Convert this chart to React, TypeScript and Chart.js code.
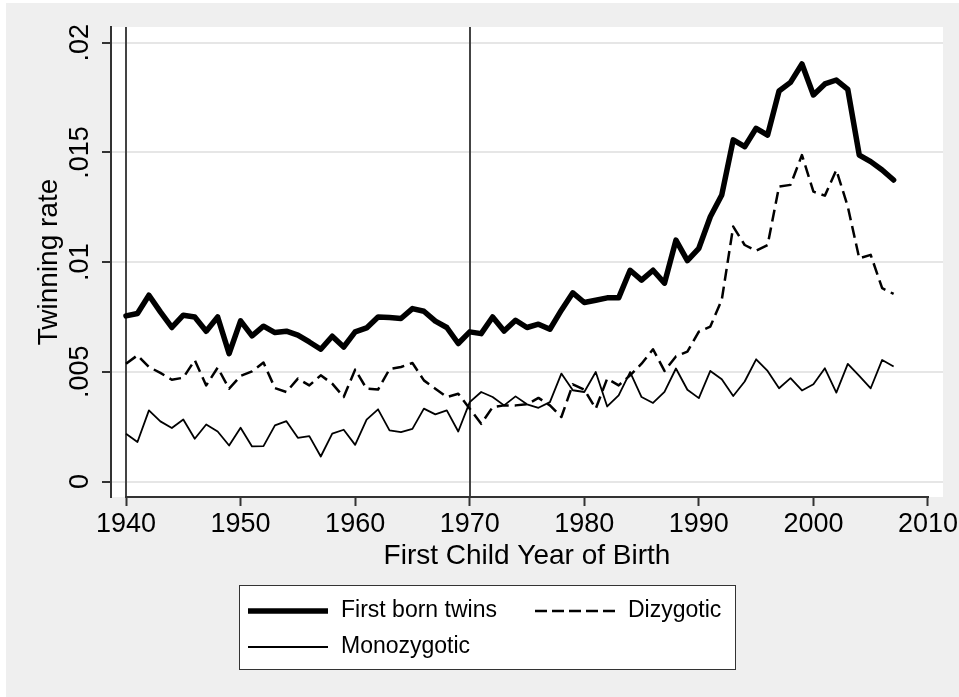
import React, { useEffect, useRef } from "react";
import { Chart, registerables } from "chart.js";

Chart.register(...registerables);

// ---------------- data ----------------
const years = [
  1940, 1941, 1942, 1943, 1944, 1945, 1946, 1947, 1948, 1949,
  1950, 1951, 1952, 1953, 1954, 1955, 1956, 1957, 1958, 1959,
  1960, 1961, 1962, 1963, 1964, 1965, 1966, 1967, 1968, 1969,
  1970, 1971, 1972, 1973, 1974, 1975, 1976, 1977, 1978, 1979,
  1980, 1981, 1982, 1983, 1984, 1985, 1986, 1987, 1988, 1989,
  1990, 1991, 1992, 1993, 1994, 1995, 1996, 1997, 1998, 1999,
  2000, 2001, 2002, 2003, 2004, 2005, 2006, 2007,
];

const firstBornTwins = [
  0.00755, 0.00766, 0.00849, 0.00773, 0.00702, 0.00758, 0.0075, 0.00685, 0.0075, 0.00583,
  0.00732, 0.00664, 0.00708, 0.00679, 0.00685, 0.00667, 0.00636, 0.00603, 0.00662, 0.00613,
  0.00682, 0.007, 0.0075, 0.00747, 0.00743, 0.00788, 0.00776, 0.00731, 0.00702, 0.00629,
  0.00682, 0.00674, 0.0075, 0.00686, 0.00735, 0.00702, 0.00717, 0.00694, 0.00781, 0.0086,
  0.00816, 0.00826, 0.00837, 0.00837, 0.00963, 0.00918, 0.00963, 0.00904, 0.011, 0.01007,
  0.01063, 0.01207, 0.01306, 0.01557, 0.01526, 0.0161, 0.01579, 0.0178, 0.01819, 0.01903,
  0.01762, 0.01812, 0.0183, 0.01787, 0.01488, 0.01458, 0.0142, 0.01374,
];

const dizygotic = [
  0.00537, 0.00575, 0.00522, 0.00495, 0.00464, 0.00473, 0.00553, 0.00438, 0.00519, 0.00423,
  0.00481, 0.00502, 0.00542, 0.00426, 0.00408, 0.00469, 0.00438, 0.00484, 0.00446, 0.00385,
  0.0051, 0.00423, 0.00419, 0.00512, 0.00522, 0.0054, 0.00461, 0.00423, 0.00385, 0.004,
  0.00332, 0.00263, 0.00339, 0.00347, 0.00347, 0.00352, 0.00381, 0.00347, 0.00294, 0.00443,
  0.00419, 0.00332, 0.00469, 0.00438, 0.00484, 0.00537, 0.00603, 0.00504, 0.0057, 0.00592,
  0.00683, 0.00706, 0.00828, 0.01162, 0.01078, 0.01052, 0.01078, 0.01344, 0.01352, 0.01488,
  0.01321, 0.01303, 0.0142, 0.01253, 0.01017, 0.01033, 0.00881, 0.00855,
];

const monozygotic = [
  0.00218, 0.0018, 0.00324, 0.00274, 0.00244, 0.00283, 0.00195, 0.0026, 0.00228, 0.00164,
  0.00245, 0.0016, 0.00161, 0.00256, 0.00275, 0.00199, 0.00207, 0.00114, 0.00218, 0.00236,
  0.00167, 0.00282, 0.00329, 0.00233, 0.00225, 0.0024, 0.00332, 0.00306, 0.00324, 0.00228,
  0.00362, 0.00408, 0.00385, 0.00347, 0.00388, 0.00352, 0.00336, 0.00362, 0.00492, 0.00416,
  0.00408, 0.00499, 0.00342, 0.00393, 0.00499, 0.00385, 0.00358, 0.00409, 0.00515, 0.00418,
  0.0038, 0.00504, 0.00466, 0.0039, 0.00456, 0.00557, 0.00504, 0.00425, 0.00471, 0.00415,
  0.00443, 0.00516, 0.00405, 0.00536, 0.00481, 0.00425, 0.00554, 0.00524,
];

const seriesNames = ["First born twins", "Dizygotic", "Monozygotic"];
const xTicks = [1940, 1950, 1960, 1970, 1980, 1990, 2000, 2010];
const yTicks = [0, 0.005, 0.01, 0.015, 0.02];
const yTickLabels = ["0", ".005", ".01", ".015", ".02"];
const referenceYears = [1940, 1970];
const xAxisTitle = "First Child Year of Birth";
const yAxisTitle = "Twinning rate";

// ---------------- layout / style ----------------
const W = 959;
const H = 697;
const FONT = "'Liberation Sans', Arial, Helvetica, sans-serif";
const BG = "#efefef";
const AXIS = "#333333";
const GRID = "#e6e6e6";

const stataPlugin = {
  id: "stataLook",
  beforeDraw(chart: any) {
    const { ctx, chartArea: a } = chart;
    ctx.save();
    ctx.fillStyle = "#ffffff";
    ctx.fillRect(0, 0, W, H);
    ctx.fillStyle = BG;
    ctx.fillRect(6, 3, W - 6, H - 3);
    ctx.fillStyle = "#ffffff";
    ctx.fillRect(a.left, a.top, a.right - a.left, a.bottom - a.top);
    ctx.restore();
  },
  beforeDatasetsDraw(chart: any) {
    const { ctx, chartArea: a, scales } = chart;
    const xs = scales.x;
    ctx.save();
    ctx.strokeStyle = "#444444";
    ctx.lineWidth = 2;
    referenceYears.forEach((yr) => {
      const px = Math.round(xs.getPixelForValue(yr));
      ctx.beginPath();
      ctx.moveTo(px, a.top);
      ctx.lineTo(px, a.bottom);
      ctx.stroke();
    });
    ctx.restore();
  },
  afterDraw(chart: any) {
    const { ctx, chartArea: a, scales } = chart;
    const xs = scales.x;
    const ys = scales.y;
    ctx.save();
    // x axis line from first to last tick
    ctx.strokeStyle = AXIS;
    ctx.lineWidth = 2;
    ctx.beginPath();
    ctx.moveTo(xs.getPixelForValue(xTicks[0]) - 1, a.bottom);
    ctx.lineTo(xs.getPixelForValue(xTicks[xTicks.length - 1]) + 1, a.bottom);
    ctx.stroke();

    // rotated y tick labels
    ctx.fillStyle = "#000000";
    ctx.font = `27px ${FONT}`;
    ctx.textAlign = "center";
    ctx.textBaseline = "middle";
    yTicks.forEach((v, i) => {
      const py = ys.getPixelForValue(v);
      ctx.save();
      ctx.translate(81, py);
      ctx.rotate(-Math.PI / 2);
      ctx.fillText(yTickLabels[i], 0, 0);
      ctx.restore();
    });

    // legend
    const bx = 239, by = 585, bw = 496, bh = 84;
    ctx.fillStyle = "#ffffff";
    ctx.fillRect(bx, by, bw, bh);
    ctx.strokeStyle = AXIS;
    ctx.lineWidth = 1;
    ctx.strokeRect(bx + 0.5, by + 0.5, bw, bh);

    const items = [
      { name: seriesNames[0], x: 248, y: 611, width: 5.5, dash: [] as number[] },
      { name: seriesNames[1], x: 535, y: 611, width: 2.5, dash: [12, 5] },
      { name: seriesNames[2], x: 248, y: 647, width: 1.8, dash: [] as number[] },
    ];
    ctx.font = `23px ${FONT}`;
    ctx.textAlign = "left";
    ctx.textBaseline = "middle";
    items.forEach((it) => {
      ctx.strokeStyle = "#000000";
      ctx.lineWidth = it.width;
      ctx.setLineDash(it.dash);
      ctx.lineCap = "butt";
      ctx.beginPath();
      ctx.moveTo(it.x, it.y);
      ctx.lineTo(it.x + 80, it.y);
      ctx.stroke();
      ctx.setLineDash([]);
      ctx.fillStyle = "#000000";
      ctx.fillText(it.name, it.x + 93, it.y);
    });
    ctx.restore();
  },
};

export default function App() {
  const ref = useRef<HTMLCanvasElement | null>(null);

  useEffect(() => {
    document.body.style.margin = "0";
    const canvas = ref.current;
    if (!canvas) return;

    const toPoints = (vals: number[]) => years.map((yr, i) => ({ x: yr, y: vals[i] }));

    const chart = new Chart(canvas, {
      type: "line",
      data: {
        datasets: [
          {
            label: seriesNames[0],
            data: toPoints(firstBornTwins),
            borderColor: "#000000",
            borderWidth: 5.5,
            pointRadius: 0,
            borderJoinStyle: "round",
            borderCapStyle: "round",
            tension: 0,
          },
          {
            label: seriesNames[1],
            data: toPoints(dizygotic),
            borderColor: "#000000",
            borderWidth: 2.5,
            borderDash: [12, 6],
            pointRadius: 0,
            borderJoinStyle: "round",
            tension: 0,
          },
          {
            label: seriesNames[2],
            data: toPoints(monozygotic),
            borderColor: "#000000",
            borderWidth: 1.8,
            pointRadius: 0,
            borderJoinStyle: "round",
            tension: 0,
          },
        ],
      },
      options: {
        animation: false,
        responsive: false,
        devicePixelRatio: 1,
        layout: { padding: { left: 0, right: 16, top: 27, bottom: 0 } },
        plugins: {
          legend: { display: false },
          tooltip: { enabled: false },
        },
        scales: {
          x: {
            type: "linear",
            position: "bottom",
            min: 1938.69,
            max: 2011.31,
            afterBuildTicks: (scale: any) => {
              scale.ticks = xTicks.map((v) => ({ value: v }));
            },
            afterFit: (scale: any) => {
              scale.height = 200;
              scale.paddingLeft = 0;
              scale.paddingRight = 0;
            },
            ticks: {
              autoSkip: false,
              maxRotation: 0,
              minRotation: 0,
              padding: 2,
              color: "#000000",
              font: { family: FONT, size: 27 },
              callback: (v: any) => String(v),
            },
            grid: {
              drawOnChartArea: false,
              drawTicks: true,
              tickLength: 9,
              tickColor: AXIS,
              tickWidth: 2,
            },
            border: { display: false },
            title: {
              display: true,
              text: xAxisTitle,
              color: "#000000",
              font: { family: FONT, size: 28 },
              padding: { top: 0, bottom: 124 },
            },
          },
          y: {
            type: "linear",
            position: "left",
            min: -0.000706,
            max: 0.020716,
            afterBuildTicks: (scale: any) => {
              scale.ticks = yTicks.map((v) => ({ value: v }));
            },
            afterFit: (scale: any) => {
              scale.width = 111;
              scale.paddingTop = 0;
              scale.paddingBottom = 0;
            },
            ticks: { display: false },
            grid: {
              color: GRID,
              lineWidth: 2,
              drawTicks: true,
              tickLength: 9,
              tickColor: AXIS,
              tickWidth: 2,
            },
            border: { display: true, color: AXIS, width: 2 },
            title: {
              display: true,
              text: yAxisTitle,
              color: "#000000",
              font: { family: FONT, size: 28 },
              padding: { top: 32.7, bottom: 0 },
            },
          },
        },
      },
      plugins: [stataPlugin],
    } as any);

    return () => chart.destroy();
  }, []);

  return (
    <div style={{ width: W, height: H, position: "relative" }}>
      <canvas ref={ref} width={W} height={H} style={{ display: "block", width: W, height: H }} />
    </div>
  );
}
